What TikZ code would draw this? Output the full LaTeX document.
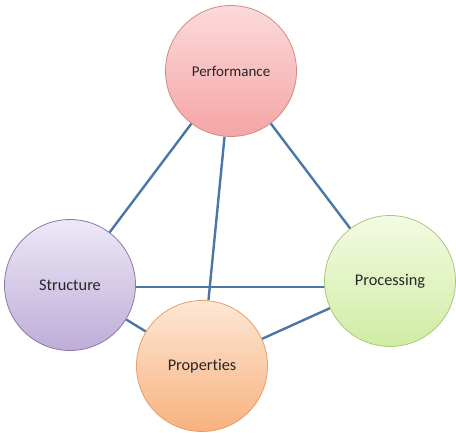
\documentclass[tikz,border=0pt]{standalone}
\usepackage{fontspec}
\setmainfont[Ligatures={NoCommon}]{Carlito}
\usetikzlibrary{backgrounds}
\definecolor{linkblue}{HTML}{4A76A8}
\tikzset{
  ball/.style={circle, minimum size=131pt, inner sep=0pt, line width=0.8pt, font=\fontsize{16.3}{18}\selectfont, text=black!85},
  link/.style={draw=linkblue, line width=2.4pt}
}
\begin{document}
\begin{tikzpicture}[x=1pt,y=-1pt]
\useasboundingbox (0,0) rectangle (456,433);
\node[ball, top color={rgb,255:red,252;green,218;blue,218}, bottom color={rgb,255:red,245;green,165;blue,165}, draw={rgb,255:red,205;green,140;blue,140}, font=\fontsize{15}{17}\selectfont] (perf) at (231,71) {Performance};
\node[ball, top color={rgb,255:red,237;green,232;blue,246}, bottom color={rgb,255:red,190;green,173;blue,216}, draw={rgb,255:red,140;green,120;blue,170}] (struct) at (70,285) {\raisebox{-2pt}{Structure}};
\node[ball, top color={rgb,255:red,253;green,231;blue,214}, bottom color={rgb,255:red,248;green,178;blue,126}, draw={rgb,255:red,228;green,160;blue,105}] (prop) at (202,366) {Properties};
\node[ball, top color={rgb,255:red,244;green,251;blue,228}, bottom color={rgb,255:red,207;green,236;blue,163}, draw={rgb,255:red,170;green,200;blue,125}] (proc) at (390,281) {Processing};
\begin{scope}[on background layer]
\draw[link] (perf) -- (struct);
\draw[link] (perf) -- (prop);
\draw[link] (perf) -- (proc);
\draw[link] ([yshift=-2pt]struct.center) -- ([yshift=-2pt]struct.center -| proc.center);
\draw[link] (struct) -- (prop);
\draw[link] (prop) -- (proc);
\end{scope}
\end{tikzpicture}
\end{document}
